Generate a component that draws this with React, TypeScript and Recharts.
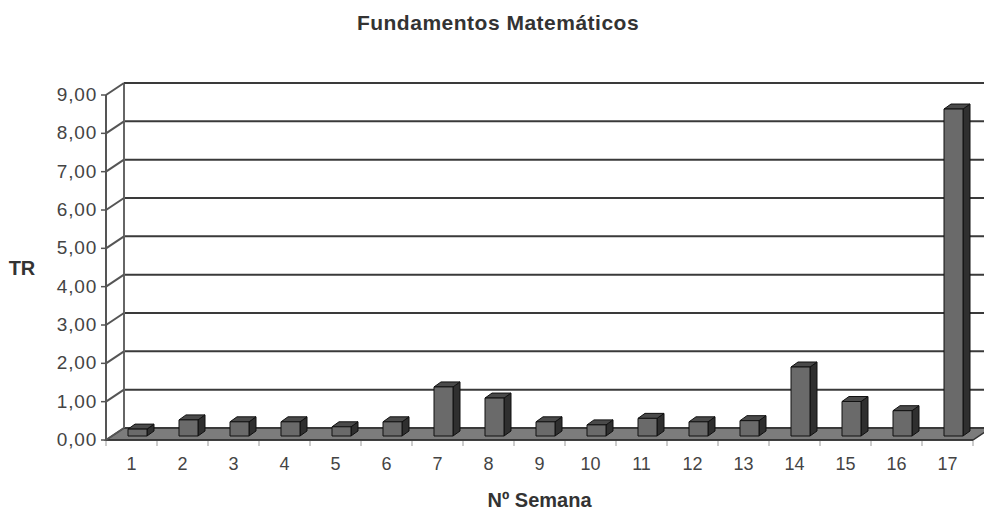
import { Bar, BarChart, CartesianGrid, XAxis, YAxis } from "recharts";

const weeks = ["1", "2", "3", "4", "5", "6", "7", "8", "9", "10", "11", "12", "13", "14", "15", "16", "17"];
const trValues = [0.18, 0.42, 0.37, 0.37, 0.24, 0.37, 1.28, 0.99, 0.37, 0.29, 0.46, 0.37, 0.4, 1.8, 0.9, 0.66, 8.53];
const yTicks = [0, 1, 2, 3, 4, 5, 6, 7, 8, 9];

const data = weeks.map((week, i) => ({ week, tr: trValues[i] }));

// depth of the fake 3D box (back wall offset) and of each bar
const DX = 18;
const DY = -12;
const BAR_OX = 6;
const BAR_OY = -4;
const BAR_DX = 7;
const BAR_DY = -5;

const FRONT_X = 106;
const FLOOR_Y = 440;
const PLOT_W = 867;
const BAND = PLOT_W / weeks.length;
const FONT = "'Liberation Sans', Arial, sans-serif";

const fmt = (v: number) => v.toFixed(2).replace(".", ",");

function BoxBar(props: any) {
  const { x, y, width, height } = props;
  if (height == null || width == null) return null;
  const fx = x + BAR_OX;
  const fy = y + BAR_OY;
  const top = `${fx},${fy} ${fx + BAR_DX},${fy + BAR_DY} ${fx + width + BAR_DX},${fy + BAR_DY} ${fx + width},${fy}`;
  const side = `${fx + width},${fy} ${fx + width + BAR_DX},${fy + BAR_DY} ${fx + width + BAR_DX},${fy + height + BAR_DY} ${fx + width},${fy + height}`;
  return (
    <g stroke="#111" strokeWidth={1} strokeLinejoin="round">
      <polygon points={side} fill="#2f2f2f" />
      <polygon points={top} fill="#4a4a4a" />
      <rect x={fx} y={fy} width={width} height={height} fill="#6a6a6a" />
    </g>
  );
}

function gridLine(props: any) {
  const { x1, y1, x2, y, height, index } = props;
  const bottom = y + height;
  const isBottom = Math.abs(y1 - bottom) < 0.5;
  const isTop = Math.abs(y1 - y) < 0.5;
  return (
    <g key={`h-${index}`}>
      {isBottom && (
        <polygon
          points={`${x1},${y1} ${x2},${y1} ${x2 + DX},${y1 + DY} ${x1 + DX},${y1 + DY}`}
          fill="#7c7c7c"
          stroke="#333"
          strokeWidth={1.5}
        />
      )}
      {isTop && (
        <line x1={x1 + DX} y1={y1 + DY} x2={x1 + DX} y2={bottom + DY} stroke="#666" strokeWidth={2} />
      )}
      <line x1={x1 + DX} y1={y1 + DY} x2={x2 + DX} y2={y1 + DY} stroke="#3a3a3a" strokeWidth={2} />
    </g>
  );
}

function YTick(props: any) {
  const { y, payload } = props;
  return (
    <g>
      <line x1={FRONT_X} y1={y} x2={FRONT_X + DX} y2={y + DY} stroke="#555" strokeWidth={2} />
      <text x={97} y={y + 6} textAnchor="end" fontFamily={FONT} fontSize={19} letterSpacing={0.8} fill="#444">
        {fmt(payload.value)}
      </text>
    </g>
  );
}

function XTick(props: any) {
  const { x, payload, index } = props;
  return (
    <g>
      <line x1={x - BAND / 2} y1={FLOOR_Y + 1} x2={x - BAND / 2} y2={FLOOR_Y + 6} stroke="#bbb" strokeWidth={1.5} />
      {index === weeks.length - 1 && (
        <line x1={x + BAND / 2} y1={FLOOR_Y + 1} x2={x + BAND / 2} y2={FLOOR_Y + 6} stroke="#bbb" strokeWidth={1.5} />
      )}
      <text x={x} y={FLOOR_Y + 30} textAnchor="middle" fontFamily={FONT} fontSize={18} fill="#444">
        {payload.value}
      </text>
    </g>
  );
}

export default function App() {
  return (
    <div style={{ position: "absolute", left: 0, top: 0, width: 984, height: 510, background: "#fff" }}>
      <div
        style={{
          position: "absolute",
          left: 0,
          top: 10,
          width: 996,
          textAlign: "center",
          lineHeight: "26px",
          fontFamily: FONT,
          fontWeight: "bold",
          fontSize: 21,
          letterSpacing: 0.5,
          color: "#333",
        }}
      >
        Fundamentos Matemáticos
      </div>
      <BarChart
        width={984}
        height={510}
        data={data}
        margin={{ top: 95, right: 11, bottom: 40, left: 0 }}
        barSize={19}
      >
        <CartesianGrid horizontal={gridLine} vertical={false} />
        <XAxis
          dataKey="week"
          height={30}
          axisLine={{ stroke: "#333", strokeWidth: 1.5 }}
          tickLine={false}
          tick={XTick}
          interval={0}
          label={{
            content: ({ viewBox }: any) => (
              <text
                x={viewBox.x + viewBox.width / 2}
                y={507}
                textAnchor="middle"
                fontFamily={FONT}
                fontWeight="bold"
                fontSize={20}
                fill="#333"
              >
                Nº Semana
              </text>
            ),
          }}
        />
        <YAxis
          width={106}
          domain={[0, 9]}
          ticks={yTicks}
          interval={0}
          axisLine={{ stroke: "#555", strokeWidth: 2 }}
          tickLine={{ stroke: "#555", strokeWidth: 1.5 }}
          tickSize={5}
          tick={YTick}
          label={{
            content: () => (
              <text x={22} y={275} textAnchor="middle" fontFamily={FONT} fontWeight="bold" fontSize={20} fill="#333">
                TR
              </text>
            ),
          }}
        />
        <Bar dataKey="tr" shape={BoxBar} isAnimationActive={false} />
      </BarChart>
    </div>
  );
}
